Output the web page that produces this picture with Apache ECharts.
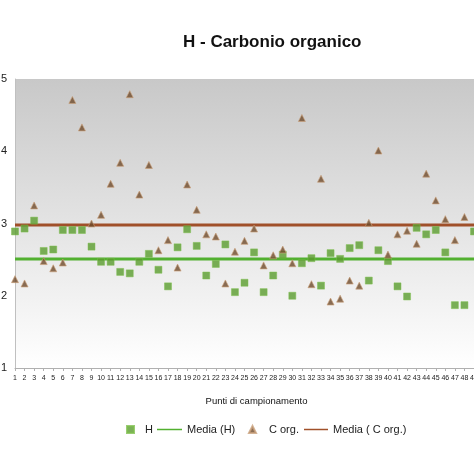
<!DOCTYPE html>
<html>
<head>
<meta charset="utf-8">
<script src="https://cdn.jsdelivr.net/npm/echarts@6/dist/echarts.min.js"></script>
<style>
html,body{margin:0;padding:0;background:#fff;}
#chart{width:474px;height:474px;}
</style>
</head>
<body>
<div id="chart"></div>
<script>
const categories = ['1','2','3','4','5','6','7','8','9','10','11','12','13','14','15','16','17','18','19','20','21','22','23','24','25','26','27','28','29','30','31','32','33','34','35','36','37','38','39','40','41','42','43','44','45','46','47','48','49'];
const hValues = [2.89,2.93,3.04,2.62,2.64,2.91,2.91,2.91,2.68,2.47,
                 2.47,2.33,2.31,2.47,2.58,2.36,2.13,2.67,2.92,2.69,
                 2.28,2.44,2.71,2.05,2.18,2.60,2.05,2.28,2.57,2.00,
                 2.45,2.52,2.14,2.59,2.51,2.66,2.70,2.21,2.63,2.48,
                 2.13,1.99,2.94,2.85,2.91,2.60,1.87,1.87,2.89];
const cValues = [2.23,2.17,3.25,2.48,2.38,2.46,4.71,4.33,3.00,3.12,
                 3.55,3.84,4.79,3.40,3.81,2.63,2.77,2.39,3.54,3.19,
                 2.85,2.82,2.17,2.61,2.76,2.93,2.42,2.56,2.64,2.45,
                 4.46,2.16,3.62,1.92,1.96,2.21,2.14,3.01,4.01,2.57,
                 2.85,2.90,2.72,3.69,3.32,3.06,2.77,3.09,'-'];
const meanH = 2.51;
const meanC = 2.98;
const yTicks = [1,2,3,4,5];

const FONT = "'Liberation Sans', Arial, sans-serif";
const GREEN_MARK = '#5a9c2e';
const GREEN_LINE = '#52b030';
const BROWN_MARK = '#6e4a2a';
const BROWN_LINE = '#a0502a';

const chart = echarts.init(document.getElementById('chart'), null, {renderer:'canvas'});
const first = categories[0], last = categories[categories.length-1];
chart.setOption({
  backgroundColor:'#ffffff',
  animation:false,
  textStyle:{fontFamily:FONT},
  title:{
    text:'H - Carbonio organico',
    left:183, top:34, padding:0,
    textStyle:{fontFamily:FONT, fontSize:17, fontWeight:'bold', color:'#111'}
  },
  legend:[
    {data:[{name:'H', icon:'rect'}], left:126, top:424, padding:0, itemWidth:7, itemHeight:7,
     textStyle:{fontFamily:FONT, fontSize:11, color:'#222', padding:[0,0,0,6]}},
    {data:[{name:'Media (H)', icon:'rect'}], left:157, top:424, padding:0, itemWidth:25, itemHeight:1.5,
     textStyle:{fontFamily:FONT, fontSize:11, color:'#222'}},
    {data:[{name:'C org.', icon:'triangle'}], left:248, top:424, padding:0, itemWidth:7, itemHeight:7,
     textStyle:{fontFamily:FONT, fontSize:11, color:'#222', padding:[0,0,0,8]}},
    {data:[{name:'Media ( C org.)', icon:'rect'}], left:304, top:424, padding:0, itemWidth:24, itemHeight:1.5,
     textStyle:{fontFamily:FONT, fontSize:11, color:'#222'}}
  ],
  grid:{
    left:15, right:0, top:79, bottom:106,
    outerBoundsMode:'none',
    show:true, borderWidth:0,
    backgroundColor:new echarts.graphic.LinearGradient(0,0,0,1,[
      {offset:0,color:'#c8c8c8'},{offset:1,color:'#ffffff'}
    ])
  },
  xAxis:{
    type:'category', data:categories, boundaryGap:false,
    name:'Punti di campionamento', nameLocation:'middle', nameGap:28,
    nameTextStyle:{fontFamily:FONT, fontSize:9.5, color:'#111', padding:[0,0,0,24]},
    axisLine:{show:true, lineStyle:{color:'#b0b0b0', width:1}},
    axisTick:{show:true, alignWithLabel:true, length:3, lineStyle:{color:'#b0b0b0'}},
    axisLabel:{interval:0, fontSize:7, color:'#222', margin:7, fontFamily:FONT},
    splitLine:{show:false}
  },
  yAxis:{
    type:'value', min:yTicks[0], max:yTicks[yTicks.length-1], interval:1,
    axisLine:{show:true, lineStyle:{color:'#c0c0c0', width:1}},
    axisTick:{show:false},
    axisLabel:{fontSize:11, color:'#222', margin:8, fontFamily:FONT},
    splitLine:{show:false}
  },
  series:[
    {name:'H', type:'scatter', data:hValues, symbol:'rect', symbolSize:7, z:5,
     itemStyle:{color:GREEN_MARK, borderColor:'#7fbf4f', borderWidth:0.6}},
    {name:'Media (H)', type:'line', data:[[first,meanH],[last,meanH]], symbol:'none', z:3,
     lineStyle:{color:GREEN_LINE, width:3}, itemStyle:{color:GREEN_LINE}},
    {name:'C org.', type:'scatter', data:cValues, symbol:'triangle', symbolSize:7, z:5,
     itemStyle:{color:BROWN_MARK, borderColor:'#c9a07a', borderWidth:0.8}},
    {name:'Media ( C org.)', type:'line', data:[[first,meanC],[last,meanC]], symbol:'none', z:3,
     lineStyle:{color:BROWN_LINE, width:3}, itemStyle:{color:BROWN_LINE}}
  ]
});
</script>
</body>
</html>
